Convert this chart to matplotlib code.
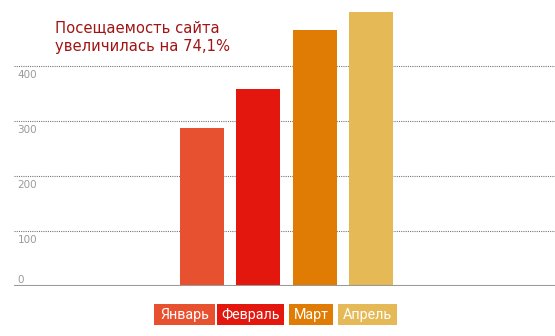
import matplotlib.pyplot as plt
from matplotlib.patches import Rectangle

months = ["Январь", "Февраль", "Март", "Апрель"]
visits = [287, 358, 465, 498]
colors = ["#E8512F", "#E3170D", "#E07B03", "#E6B957"]
yticks = [0, 100, 200, 300, 400]

fig = plt.figure(figsize=(5.55, 3.36), dpi=100)
ax = fig.add_axes([14 / 555, 50 / 336, 1 - 14 / 555, 1 - 50 / 336])

x = list(range(len(months)))
ax.bar(x, visits, width=0.78, color=colors, zorder=3)

ax.set_xlim(-3.34, 6.27)
ax.set_ylim(0, 520)

# dotted grid lines, labels sit just under each line (0 sits above)
for t in yticks[1:]:
    ax.axhline(t, color="#777777", lw=0.8, ls=(0, (1, 1)), zorder=1)
ax.axhline(0, color="#999999", lw=1.5, zorder=4)
for t in yticks:
    off = 11 if t == 0 else -16
    ax.text(-3.28, t + off, str(t), color="#9a9a9a", fontsize=7.5,
            ha="left", va="center")

for s in ax.spines.values():
    s.set_visible(False)
ax.set_xticks([])
ax.set_yticks([])

fig.text(55 / 555, 1 - 37 / 336, "Посещаемость сайта\nувеличилась на 74,1%",
         color="#A01414", fontsize=10.6, ha="left", va="center",
         linespacing=1.3)

# legend as coloured boxes
boxes = [(154, 215), (217, 284), (289, 333), (338, 397)]
for name, c, (x0, x1) in zip(months, colors, boxes):
    fig.patches.append(Rectangle((x0 / 555, 1 - 325 / 336), (x1 - x0) / 555,
                                 21 / 336, transform=fig.transFigure,
                                 facecolor=c, edgecolor="none"))
    fig.text((x0 + x1) / 2 / 555, 1 - 315 / 336, name, color="white",
             fontsize=10.3, family="Roboto", ha="center", va="center")

fig.savefig("out.png", dpi=100)
